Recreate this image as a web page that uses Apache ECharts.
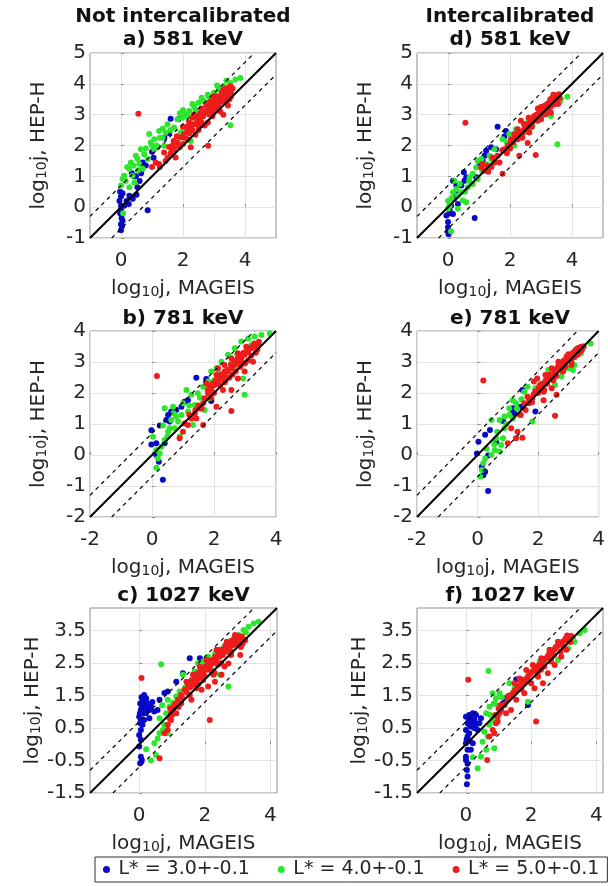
<!DOCTYPE html>
<html><head><meta charset="utf-8">
<script src="https://cdn.jsdelivr.net/npm/echarts@6/dist/echarts.min.js"></script>
<style>html,body{margin:0;padding:0;background:#fff}#c{width:608px;height:886px}</style>
</head><body><div id="c"></div>
<script>
// ---------------- data ----------------
const seriesNames = ['L* = 3.0+-0.1', 'L* = 4.0+-0.1', 'L* = 5.0+-0.1'];
const columnTitles = ['Not intercalibrated', 'Intercalibrated'];
const panelTitles = ['a) 581 keV', 'd) 581 keV', 'b) 781 keV', 'e) 781 keV', 'c) 1027 keV', 'f) 1027 keV'];
const rangeA = [-1, 5], rangeB = [-2, 4], rangeC = [-1.5, 4.2];
const xTicksA = [0, 2, 4], yTicksA = [-1, 0, 1, 2, 3, 4, 5];
const xTicksB = [-2, 0, 2, 4], yTicksB = [-2, -1, 0, 1, 2, 3, 4];
const xTicksC = [0, 2, 4], yTicksC = [-1.5, -0.5, 0.5, 1.5, 2.5, 3.5];
const bandOffset = 0.7;

const aBlue = [[0.0,-0.75],[0.0,-0.55],[0.02,-0.35],[-0.03,-0.2],[0.0,0.05],[-0.05,0.2],[0.0,0.35],[-0.03,0.5],[0.1,0.05],[0.18,0.2],[0.27,0.37],[0.38,0.27],[0.5,0.4],[0.53,0.65],[0.48,1.0],[0.6,0.85],[0.7,1.45],[0.8,1.35],[0.86,-0.1],[1.0,1.8],[1.05,1.6],[1.18,1.95],[1.4,2.25],[1.55,2.4],[1.6,2.87],[1.85,2.85],[0.65,1.1],[0.43,1.0],[0.05,-0.45],[0.05,0.45],[0.25,0.1],[0.35,1.1],[0.0,-0.1],[0.03,-0.62]];
const aGreen = [[0.05,0.91],[0.0,0.7],[0.07,-0.2],[0.32,1.45],[0.27,1.24],[0.37,1.02],[0.53,1.56],[0.59,1.4],[0.64,1.88],[0.75,1.72],[0.86,1.56],[0.91,2.37],[0.96,2.1],[1.07,2.2],[1.23,2.47],[1.34,2.26],[1.44,2.42],[1.5,2.69],[1.71,2.58],[1.82,2.85],[1.98,2.9],[2.09,3.0],[2.2,3.12],[2.35,3.28],[2.5,3.39],[2.67,3.44],[2.83,3.6],[3.0,3.71],[3.15,3.82],[3.32,3.92],[3.53,4.03],[3.69,4.14],[3.85,4.19],[3.53,2.66],[1.71,1.99],[2.25,2.15],[0.27,0.65],[0.48,1.67],[0.1,1.02],[0.43,0.8],[1.07,1.88],[1.39,1.99],[1.93,2.42],[2.46,2.96],[2.73,3.06],[3.0,3.39],[3.21,3.5],[3.37,3.71],[3.1,3.28],[0.2,1.3],[0.7,1.25],[1.15,2.0],[2.0,3.15],[2.6,3.55],[3.4,4.1],[0.15,0.85],[0.4,1.35],[0.8,1.9],[1.25,2.25],[1.6,2.5],[2.15,2.95],[2.4,3.15],[2.9,3.5],[3.25,3.85],[0.55,1.2],[1.0,2.0],[1.35,2.55],[1.9,3.05],[2.3,3.35],[2.8,3.65],[3.1,3.95]];
const aRed = [[0.56,3.03],[1.12,1.45],[1.23,1.4],[1.39,1.77],[1.66,1.99],[1.71,1.88],[1.82,2.1],[1.93,2.26],[2.03,2.37],[2.14,2.47],[2.25,2.58],[2.35,2.69],[2.46,2.8],[2.57,2.9],[2.67,3.01],[2.78,3.12],[2.89,3.23],[3.0,3.33],[3.1,3.44],[3.21,3.55],[3.32,3.66],[3.42,3.76],[3.48,3.87],[3.53,3.92],[2.81,1.99],[2.25,1.94],[1.76,1.61],[1.44,1.5],[2.5,2.5],[2.8,2.75],[3.2,3.1],[3.5,3.5],[2.0,2.05],[1.6,1.75],[2.3,2.9],[2.6,3.2],[3.0,3.6],[2.0,2.6],[3.3,3.0],[3.45,3.3],[1.8,2.3],[2.15,2.2],[2.4,2.35],[2.7,2.65],[2.95,2.95],[3.15,3.25],[3.4,3.55],[3.55,3.7],[1.55,1.95],[1.9,1.95],[2.2,2.75],[2.55,3.05],[2.85,3.4],[3.1,3.6],[3.3,3.8],[1.25,1.3],[1.0,1.3],[2.1,2.6],[2.3,2.5],[2.45,2.95],[2.6,2.75],[2.75,3.1],[2.9,3.05],[3.05,3.2],[3.2,3.4],[3.35,3.45],[3.5,3.8],[3.45,3.65],[3.6,3.85],[2.2,2.4],[2.65,2.95],[2.95,3.45],[3.25,3.7],[1.7,2.15],[1.85,2.0],[2.05,2.25],[1.65,1.85],[1.5,1.6],[2.35,3.0],[2.75,3.3],[3.1,3.15],[3.4,3.4],[3.55,3.6],[3.0,3.15],[2.85,3.0],[2.5,2.65],[3.35,3.85]];

const dBlue = [[0,-0.8],[0,-0.65],[0,-0.48],[-0.05,-0.27],[0.05,-0.2],[0.16,-0.22],[0.1,0.05],[0.2,0.27],[0.32,0.1],[0.16,0.86],[0.27,0.7],[0.43,0.7],[0.53,0.86],[0.86,-0.35],[0.91,0.97],[1.02,1.4],[1.12,1.5],[1.18,1.67],[1.23,1.83],[1.39,1.94],[1.55,1.88],[1.6,2.61],[1.87,2.47],[1.82,2.29],[0.59,0.97],[0.51,1.13],[0.02,-0.88],[0.05,-0.1],[0.25,0.45]];
const dGreen = [[0.1,-0.78],[0,0.2],[0.05,0.05],[0.16,0.48],[0.27,0.59],[0.32,0.38],[0.43,0.48],[0.48,0.22],[0.59,0.16],[0.64,0.65],[0.32,-0.05],[0.21,0.86],[0.7,0.97],[0.8,1.08],[0.91,1.29],[0.96,1.5],[1.07,1.56],[1.23,1.4],[1.34,1.67],[1.5,1.88],[1.76,2.2],[1.98,2.37],[2.19,2.53],[2.14,1.99],[2.46,2.42],[2.73,2.63],[2.94,2.96],[3.15,3.23],[3.42,3.39],[3.64,3.5],[3.85,3.58],[3.53,2.04],[3.32,2.96],[0.96,0.91],[0.8,0.75],[0.0,-0.05],[0.12,0.3],[0.55,0.5],[1.1,1.2],[1.9,2.1],[2.6,2.8],[3.6,3.4],[0.38,0.75],[0.68,0.85],[1.15,1.35],[1.4,1.55],[2.3,2.45],[3.0,2.85]];
const dRed = [[0.56,2.74],[1.07,1.29],[1.18,1.18],[1.12,1.4],[1.28,1.34],[1.44,1.61],[1.6,1.67],[1.66,1.45],[1.76,1.08],[1.82,1.88],[1.93,1.99],[2.03,2.2],[2.14,2.37],[2.25,2.53],[2.35,2.8],[2.46,2.53],[2.57,2.69],[2.62,2.42],[2.67,2.85],[2.78,2.96],[2.83,1.69],[2.89,2.8],[3.0,3.12],[3.1,3.28],[3.21,3.17],[3.26,3.39],[3.37,3.55],[3.42,3.33],[3.48,3.6],[3.58,3.66],[2.3,1.67],[2.57,2.08],[2.25,2.2],[3.15,3.01],[3.32,3.06],[2.0,2.05],[2.4,2.4],[2.7,2.7],[2.9,2.95],[3.05,3.0],[3.2,3.35],[3.4,3.45],[3.55,3.5],[2.15,2.25],[2.5,2.6],[2.8,2.85],[3.0,2.85],[3.3,3.25],[1.5,1.45],[1.9,1.75],[2.1,2.1],[2.2,2.35],[2.35,2.45],[2.45,2.7],[2.55,2.5],[2.65,2.75],[2.75,2.8],[2.85,3.0],[2.95,3.1],[3.05,3.15],[3.15,3.3],[3.25,3.25],[3.35,3.4],[3.45,3.5],[3.5,3.62],[3.6,3.55],[3.3,3.5],[3.1,3.1],[2.7,2.6],[2.4,2.25],[2.0,1.9],[1.75,1.85],[1.4,1.3],[1.3,1.15],[2.9,3.2],[3.4,3.65],[3.55,3.35],[2.6,2.9],[3.0,3.25]];

const bBlue = [[-0.02,0.34],[-0.02,0.8],[0.14,0.38],[0.19,0.05],[0.22,-0.22],[0.14,0.0],[0.35,-0.8],[0.41,0.38],[0.25,0.95],[0.46,1.13],[0.57,1.08],[0.62,1.4],[0.78,1.45],[0.95,1.56],[1.05,1.72],[1.16,1.77],[1.43,2.49],[1.75,2.45],[1.91,1.74],[0.52,1.29]];
const bGreen = [[0.14,0.16],[0.03,0.59],[0.14,-0.41],[0.19,-0.11],[0.25,0.05],[0.3,0.27],[0.41,0.48],[0.57,0.86],[0.52,0.75],[0.73,0.86],[0.78,1.24],[0.84,1.08],[0.62,1.13],[0.41,1.51],[0.68,1.56],[0.95,1.29],[1.11,2.1],[1.27,1.94],[1.38,1.61],[1.32,0.97],[1.48,1.99],[1.65,2.2],[1.81,2.37],[1.91,2.69],[2.08,2.8],[2.24,3.01],[2.45,3.23],[2.67,3.44],[2.88,3.66],[3.1,3.76],[3.31,3.82],[3.53,3.87],[3.8,3.92],[2.34,2.58],[2.94,2.47],[2.99,1.94],[1.7,1.45],[1.86,1.83],[1.0,1.67],[1.16,1.4],[0.35,0.95],[0.9,0.6],[2.0,2.4],[2.55,2.95],[3.2,3.55],[0.5,0.6],[0.7,1.35],[1.2,1.6],[1.55,1.85],[2.15,2.65],[2.75,3.25]];
const bRed = [[0.16,2.55],[0.89,0.54],[1.0,0.75],[1.05,1.02],[1.16,0.97],[1.27,1.18],[1.38,1.34],[1.43,1.18],[1.54,1.51],[1.65,1.67],[1.7,1.83],[1.81,1.99],[1.91,2.15],[2.02,2.26],[2.13,2.37],[2.24,2.47],[2.34,2.58],[2.45,2.69],[2.56,2.8],[2.67,2.9],[2.77,3.01],[2.88,3.12],[2.99,3.23],[3.1,3.33],[3.2,3.44],[3.31,3.55],[3.42,3.6],[2.56,1.42],[2.08,1.56],[2.29,2.1],[2.56,2.1],[2.77,2.47],[2.99,2.69],[3.26,3.01],[1.86,2.2],[1.75,2.31],[2.08,2.58],[2.13,2.8],[2.34,2.9],[2.56,3.12],[2.77,3.28],[3.04,3.49],[1.65,0.97],[2.2,2.25],[2.4,2.45],[2.6,2.6],[2.85,2.85],[3.1,3.05],[3.35,3.3],[2.0,2.0],[1.5,1.6],[1.8,2.1],[1.95,2.3],[2.05,2.4],[2.15,2.45],[2.25,2.6],[2.35,2.7],[2.45,2.75],[2.55,2.9],[2.65,3.0],[2.75,3.1],[2.85,3.2],[2.95,3.3],[3.05,3.35],[3.15,3.45],[3.25,3.5],[3.35,3.55],[3.45,3.65],[2.7,2.7],[2.9,3.0],[3.2,3.2],[3.4,3.4],[2.35,2.35],[1.9,1.85],[1.6,1.5],[1.4,1.45],[1.2,1.3],[3.0,2.95],[3.3,3.6],[2.5,2.5]];

const eBlue = [[-0.02,0.05],[0.03,0.43],[0.14,-0.38],[0.19,-0.65],[0.25,-0.54],[0.35,-1.16],[0.35,-0.02],[0.25,0.65],[0.41,0.81],[0.62,0.43],[0.84,1.1],[1.16,1.51],[1.22,1.34],[1.43,1.56],[1.48,2.1],[1.75,1.77],[1.91,1.4],[1.16,1.4]];
const eGreen = [[0.09,-0.7],[0.14,-0.48],[0.19,-0.27],[0.25,-0.11],[0.46,0],[0.57,0.16],[0.73,0.11],[0.62,0.54],[0.78,0.32],[0.84,0.54],[0.46,1.13],[0.73,1.13],[0.89,1.24],[1.05,1.29],[1.16,1.18],[1.16,1.77],[1.27,1.67],[1.38,1.29],[1.54,2.04],[1.65,2.2],[1.81,1.08],[1.91,2.15],[2.34,2.74],[2.56,2.26],[2.77,2.53],[2.99,2.8],[3.2,2.9],[3.42,3.28],[3.74,3.6],[3.15,2.74],[0.89,0.86],[1.05,1.51],[0.3,0.2],[0.55,0.35],[1.3,1.5],[2.1,2.3],[3.5,3.5],[0.65,0.75],[0.95,1.0],[1.45,1.8],[2.5,2.5]];
const eRed = [[0.19,2.4],[1.0,0.38],[1.27,0.54],[1.48,0.56],[1.32,0.75],[1.11,0.86],[1.43,1.29],[1.59,1.45],[1.7,1.67],[1.81,1.83],[1.91,1.99],[2.02,2.15],[2.13,2.26],[2.24,2.37],[2.34,2.47],[2.45,2.58],[2.56,2.69],[2.67,2.8],[2.77,2.9],[2.88,3.01],[2.99,3.12],[3.1,3.23],[3.2,3.33],[3.31,3.44],[3.42,3.49],[2.56,1.27],[2.18,1.77],[2.61,1.94],[1.86,2.37],[1.97,2.47],[2.24,2.58],[2.45,2.8],[2.67,3.01],[2.94,3.17],[3.31,3.23],[3.1,2.9],[2.83,2.69],[2.45,2.15],[2.18,2.04],[1.65,1.88],[1.54,1.67],[2.0,2.0],[2.3,2.3],[2.6,2.55],[2.9,2.85],[3.2,3.15],[3.4,3.35],[1.8,1.7],[2.1,2.15],[1.9,2.05],[2.05,2.25],[2.15,2.3],[2.25,2.4],[2.35,2.55],[2.45,2.6],[2.55,2.75],[2.65,2.85],[2.75,2.95],[2.85,3.05],[2.95,3.15],[3.05,3.2],[3.15,3.3],[3.25,3.4],[3.35,3.45],[3.45,3.4],[3.5,3.5],[2.2,2.1],[2.5,2.4],[2.8,2.7],[3.1,3.0],[3.3,3.25],[1.7,1.8],[1.85,1.95],[2.4,2.6],[2.7,2.9],[3.0,3.25]];

const cBlue = [[0,-0.07],[0.05,-0.38],[0.08,-0.48],[0.03,-0.58],[0.05,0.14],[0,0.29],[0.05,0.44],[0.03,0.65],[0,0.85],[0.05,1.06],[0.03,1.26],[0.1,1.37],[0.15,1.52],[0.21,1.42],[0.26,1.26],[0.31,1.06],[0.21,0.96],[0.36,1.16],[0.46,1.01],[0.56,1.06],[0.62,1.37],[0.15,0.75],[0.1,0.6],[0.31,0.8],[0.77,1.58],[0.87,1.63],[1.13,1.93],[1.54,2.65],[1.85,2.65],[1.33,2.19],[0.08,1.15],[0.12,0.95],[0.18,1.25],[0.02,0.95],[0.4,1.3],[0.25,1.1],[0.07,1.45],[0.12,1.3],[0.2,1.35],[0.05,0.75],[0.1,1.1],[0.3,1.2]];
const cGreen = [[0.67,2.47],[0.21,-0.15],[0.36,-0.5],[0.46,0.03],[0.56,0.18],[0.62,0.34],[0.72,0.44],[0.77,0.6],[0.62,0.8],[0.82,0.96],[0.92,1.16],[1.03,1.27],[0.87,1.37],[1.13,1.47],[1.23,1.63],[1.33,2.14],[1.49,1.88],[1.69,2.24],[1.79,2.5],[1.95,2.55],[2.1,2.7],[2.31,2.8],[2.46,2.91],[2.62,3.06],[2.82,3.21],[3.03,3.37],[3.18,3.52],[3.33,3.62],[3.49,3.72],[3.64,3.78],[2.72,1.78],[2.46,2.14],[2.21,2.29],[1.08,0.96],[0.87,0.34],[0.51,-0.33],[1.6,2.0],[2.0,2.35],[2.9,3.3],[3.1,3.2],[1.4,1.75],[1.85,2.3],[2.55,2.95],[3.25,3.45],[0.7,1.2]];
const cRed = [[0.07,2.04],[0.62,-0.43],[2.15,0.75],[0.77,0.34],[0.87,0.6],[0.92,0.8],[0.97,0.96],[1.03,1.06],[1.08,1.21],[1.18,1.37],[1.28,1.52],[1.38,1.68],[1.49,1.83],[1.59,1.96],[1.69,2.08],[1.79,2.19],[1.9,2.29],[2.0,2.39],[2.1,2.5],[2.21,2.6],[2.31,2.7],[2.41,2.8],[2.51,2.91],[2.62,3.01],[2.72,3.11],[2.82,3.19],[2.92,3.26],[3.03,3.34],[3.13,3.32],[3.23,3.21],[3.08,2.75],[2.72,2.49],[2.51,2.14],[2.31,1.93],[2.1,1.78],[1.95,1.98],[1.74,1.73],[1.54,1.52],[1.28,1.26],[1.13,0.96],[0.97,0.75],[1.59,1.37],[1.9,1.68],[2.26,2.14],[1.44,1.93],[1.64,2.14],[1.85,2.39],[2.05,2.6],[2.36,2.91],[2.67,3.16],[2.92,3.37],[0.87,0.44],[1.0,0.9],[1.2,1.15],[2.0,2.1],[2.4,2.45],[2.8,2.85],[3.0,3.05],[3.15,3.1],[1.3,1.45],[1.45,1.6],[1.55,1.75],[1.65,1.85],[1.75,1.95],[1.85,2.05],[1.95,2.2],[2.05,2.3],[2.15,2.4],[2.25,2.5],[2.35,2.6],[2.45,2.7],[2.55,2.75],[2.65,2.85],[2.75,2.95],[2.85,3.05],[2.95,3.15],[3.05,3.2],[3.15,3.25],[2.2,2.25],[2.5,2.5],[2.8,2.75],[3.1,3.0],[1.0,1.0],[1.1,1.25],[0.95,1.1],[2.6,2.4],[2.3,2.2],[1.8,1.85]];

const fBlue = [[0,0.03],[0.05,-0.17],[0,-0.48],[0.03,-0.79],[0.05,-0.99],[0.03,-1.23],[0,-0.38],[0.05,0.24],[0,0.44],[0.05,0.65],[0,0.85],[0.1,0.9],[0.15,0.8],[0.21,0.96],[0.26,0.75],[0.31,0.9],[0.1,0.34],[0.21,0.03],[0.15,-0.17],[0.36,0.44],[0.41,0.65],[0.46,0.8],[0.15,0.55],[0.87,1.26],[1.13,1.26],[1.18,1.42],[1.54,2.0],[1.9,1.21],[0.08,0.7],[0.02,0.15],[0.25,0.5],[0.05,-0.6],[0.1,0.6],[0.2,0.7],[0.12,0.1],[0.3,0.6]];
const fGreen = [[0.69,2.26],[0.36,-0.74],[0.21,-0.4],[0.46,-0.38],[0.62,-0.17],[0.51,0.08],[0.67,0.24],[0.56,0.39],[0.87,-0.12],[0.72,0.6],[0.82,0.75],[0.62,0.96],[0.72,1.16],[0.87,1.26],[0.92,1.42],[0.82,1.57],[1.03,1.57],[1.18,1.21],[1.33,1.88],[1.49,1.73],[1.9,1.31],[2.26,2.55],[2.62,2.65],[2.82,2.6],[3.13,2.96],[3.28,3.26],[3.49,3.42],[3.64,3.52],[3.33,3.16],[1.7,2.0],[2.0,2.2],[2.4,2.5],[1.1,1.45],[0.75,0.9]];
const fRed = [[0.07,1.99],[0.65,-0.48],[2.15,0.7],[0.72,0.24],[0.82,0.44],[0.92,0.65],[0.97,0.85],[1.03,0.96],[1.08,1.06],[0.97,0.7],[0.87,0.34],[1.18,1.21],[1.28,1.37],[1.38,1.52],[1.49,1.65],[1.59,1.78],[1.69,1.88],[1.79,2.0],[1.9,2.1],[2.0,2.21],[2.1,2.31],[2.21,2.41],[2.31,2.52],[2.41,2.62],[2.51,2.72],[2.62,2.82],[2.72,2.93],[2.82,3.03],[2.92,3.13],[3.03,3.21],[3.13,3.3],[3.23,3.34],[3.08,2.91],[2.72,2.44],[2.51,2.19],[2.36,1.88],[2.1,1.73],[1.79,1.57],[1.54,1.37],[1.38,1.06],[1.23,0.96],[1.49,1.88],[1.64,2.03],[1.85,2.29],[2.05,2.44],[2.31,2.65],[2.56,2.91],[2.82,3.16],[2.0,1.88],[2.21,2.08],[2.92,2.7],[1.0,1.1],[1.7,1.7],[2.2,2.2],[2.6,2.6],[3.0,3.0],[3.2,3.15],[1.3,1.5],[1.45,1.6],[1.55,1.7],[1.65,1.8],[1.75,1.9],[1.85,2.0],[1.95,2.15],[2.05,2.25],[2.15,2.35],[2.25,2.45],[2.35,2.55],[2.45,2.65],[2.55,2.8],[2.65,2.9],[2.75,3.0],[2.85,3.1],[2.95,3.15],[3.05,3.25],[3.15,3.2],[2.3,2.3],[2.6,2.55],[2.9,2.85],[1.9,1.95],[0.9,0.9],[1.05,1.2],[2.4,2.4],[2.7,2.75],[3.1,3.35]];

// ---------------- layout ----------------
const colors = ['#0808c8', '#2be62b', '#ee1c1c'];
const textColor = '#262626';
const FONT = 'DejaVu Sans';
const panels = [
  {g: {left: 90, top: 53, width: 186, height: 185}, r: rangeA, xt: xTicksA, yt: yTicksA, d: [aBlue, aGreen, aRed], title: 1, tY: 40},
  {g: {left: 417, top: 53, width: 186, height: 185}, r: rangeA, xt: xTicksA, yt: yTicksA, d: [dBlue, dGreen, dRed], title: 1, tY: 40},
  {g: {left: 90, top: 331, width: 186, height: 186}, r: rangeB, xt: xTicksB, yt: yTicksB, d: [bBlue, bGreen, bRed], tY: 319},
  {g: {left: 417, top: 331, width: 186, height: 186}, r: rangeB, xt: xTicksB, yt: yTicksB, d: [eBlue, eGreen, eRed], tY: 319},
  {g: {left: 90, top: 608, width: 187, height: 185}, r: rangeC, xt: xTicksC, yt: yTicksC, d: [cBlue, cGreen, cRed], tY: 596},
  {g: {left: 417, top: 608, width: 186, height: 185}, r: rangeC, xt: xTicksC, yt: yTicksC, d: [fBlue, fGreen, fRed], tY: 596}
];

const rich = {
  n: {fontSize: 20, lineHeight: 20, color: textColor, fontFamily: FONT, verticalAlign: 'top'},
  s: {fontSize: 14, lineHeight: 14, color: textColor, fontFamily: FONT, verticalAlign: 'bottom', padding: [13, 0, 0, 0]}
};
function axName(t) { return '{n|log}{s|10}{n|j, ' + t + '}'; }
function titleText(text, x, y) {
  return {type: 'text', x: x, y: y, silent: true,
    style: {text: text, font: 'bold 20px "DejaVu Sans"', fill: '#111',
      align: 'center', verticalAlign: 'middle', textAlign: 'center', textVerticalAlign: 'middle'}};
}

const grid = [], xAxis = [], yAxis = [], series = [], graphic = [];
panels.forEach((p, i) => {
  grid.push(Object.assign({show: true, borderColor: '#8f8f8f', borderWidth: 1, backgroundColor: '#fff'}, p.g));
  const cx = p.g.left + p.g.width / 2;
  graphic.push(titleText(panelTitles[i], cx, p.tY));
  if (p.title) graphic.push(titleText(columnTitles[i], cx, 17));
  const common = {
    type: 'value', gridIndex: i, min: p.r[0], max: p.r[1],
    axisLine: {show: false},
    nameTextStyle: {rich: rich}
  };
  xAxis.push(Object.assign({}, common, {
    interval: 2,
    axisTick: {show: true, inside: true, length: 3, lineStyle: {color: '#8f8f8f'}, customValues: p.xt},
    axisLabel: {customValues: p.xt, fontSize: 20, fontFamily: FONT, color: textColor, margin: 13},
    splitLine: {show: true, lineStyle: {color: '#e3e3e3', width: 1}, customValues: p.xt},
    name: axName('MAGEIS'), nameLocation: 'middle', nameGap: 35
  }));
  yAxis.push(Object.assign({}, common, {
    interval: 1,
    axisTick: {show: true, inside: true, length: 3, lineStyle: {color: '#8f8f8f'}, customValues: p.yt},
    axisLabel: {customValues: p.yt, fontSize: 20, fontFamily: FONT, color: textColor, margin: 4},
    splitLine: {show: true, lineStyle: {color: '#e3e3e3', width: 1}, customValues: p.yt},
    name: axName('HEP-H'), nameLocation: 'middle', nameGap: 41
  }));
  p.d.forEach((arr, k) => {
    series.push({type: 'scatter', name: seriesNames[k], xAxisIndex: i, yAxisIndex: i, data: arr,
      symbol: 'circle', symbolSize: 6, itemStyle: {color: colors[k], opacity: 1}, z: 2 + k * 0.1});
  });
  const lo = p.r[0], hi = p.r[1];
  series.push({type: 'line', xAxisIndex: i, yAxisIndex: i, data: [[lo, lo], [hi, hi]], symbol: 'none',
    lineStyle: {color: '#000', width: 2}, z: 5, silent: true});
  series.push({type: 'line', xAxisIndex: i, yAxisIndex: i, data: [[lo, lo + bandOffset], [hi - bandOffset, hi]], symbol: 'none',
    lineStyle: {color: '#000', width: 1.2, type: [4, 4]}, z: 5, silent: true});
  series.push({type: 'line', xAxisIndex: i, yAxisIndex: i, data: [[lo + bandOffset, lo], [hi, hi - bandOffset]], symbol: 'none',
    lineStyle: {color: '#000', width: 1.2, type: [4, 4]}, z: 5, silent: true});
});

const chart = echarts.init(document.getElementById('c'), null, {renderer: 'canvas'});
chart.setOption({
  animation: false,
  backgroundColor: '#fff',
  graphic: graphic,
  grid: grid, xAxis: xAxis, yAxis: yAxis, series: series,
  legend: {
    data: seriesNames.map(n => ({name: n, icon: 'circle'})),
    left: 95, top: 857, orient: 'horizontal',
    itemWidth: 14, itemHeight: 7, itemGap: 28,
    padding: [3, 8, 3, 8],
    borderColor: '#333', borderWidth: 1, backgroundColor: '#fff',
    textStyle: {fontFamily: FONT, fontSize: 19, color: textColor}
  }
});
</script></body></html>
